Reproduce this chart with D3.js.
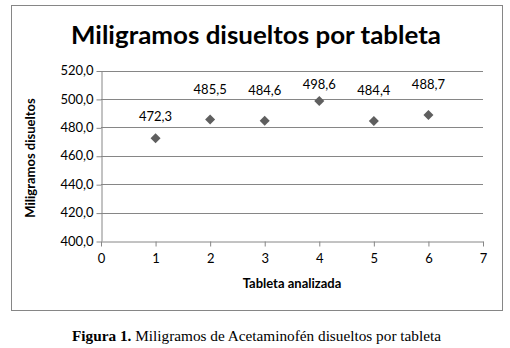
<!DOCTYPE html>
<html><head><meta charset="utf-8">
<script src="https://cdn.jsdelivr.net/npm/d3@7"></script>
<style>body{margin:0;background:#fff}svg{display:block}</style>
</head><body>
<svg id="c" width="510" height="348"></svg>
<script>
const tablets = [1, 2, 3, 4, 5, 6];
const mgValues = [472.3, 485.5, 484.6, 498.6, 484.4, 488.7];
const labelLift = [22, 30, 30, 16, 31, 30];
const yTicks = [400, 420, 440, 460, 480, 500, 520];
const xTicks = [0, 1, 2, 3, 4, 5, 6, 7];
const titleText = "Miligramos disueltos por tableta";
const yTitle = "Miligramos disueltos";
const xTitle = "Tableta analizada";

const svg = d3.select("#c");
const grid = "#868686";
const fmt = v => d3.format(".1f")(v).replace(".", ",");

svg.append("rect").attr("x", 11.5).attr("y", 5.5).attr("width", 491).attr("height", 305)
  .attr("fill", "#fff").attr("stroke", grid).attr("stroke-width", 1);

const x = d3.scaleLinear().domain([0, 7]).range([101, 483]);
const y = d3.scaleLinear().domain([400, 520]).range([241, 70.5]);

// gridlines
svg.append("g").selectAll("line").data(yTicks.filter(d => d > 400)).join("line")
  .attr("x1", x(0)).attr("x2", x(7))
  .attr("y1", d => Math.round(y(d)) + 0.5).attr("y2", d => Math.round(y(d)) + 0.5)
  .attr("stroke", grid);

const yAxis = svg.append("g").attr("transform", `translate(${Math.round(x(0)) + 0.5},0)`)
  .call(d3.axisLeft(y).tickValues(yTicks).tickFormat(fmt).tickSize(5).tickPadding(3).tickSizeOuter(0));
const xAxis = svg.append("g").attr("transform", `translate(0,${Math.round(y(400)) + 0.5})`)
  .call(d3.axisBottom(x).tickValues(xTicks).tickFormat(d3.format("d")).tickSize(5).tickPadding(7).tickSizeOuter(0));
[yAxis, xAxis].forEach(a => {
  a.select(".domain").attr("stroke", grid);
  a.selectAll(".tick line").attr("stroke", grid);
  a.selectAll("text").attr("fill", "#000").attr("font-family", "Lato, sans-serif").attr("font-size", 13);
});
yAxis.selectAll(".tick line").attr("transform", "translate(0,0.5)");

// markers
const sym = d3.symbol().type(d3.symbolDiamond2).size(64);
svg.append("g").selectAll("path").data(tablets).join("path")
  .attr("d", sym)
  .attr("transform", (d, i) => `translate(${x(d)},${y(mgValues[i])})`)
  .attr("fill", "#5f5f5f");

svg.append("g").selectAll("text").data(tablets).join("text")
  .attr("x", d => x(d))
  .attr("y", (d, i) => y(mgValues[i]) - labelLift[i] + 4.5)
  .attr("text-anchor", "middle")
  .attr("font-family", "Lato, sans-serif").attr("font-size", 13).attr("fill", "#000")
  .text((d, i) => fmt(mgValues[i]));

svg.append("text").attr("x", 256).attr("y", 44).attr("text-anchor", "middle")
  .attr("font-family", "Lato, sans-serif").attr("font-weight", "bold").attr("font-size", 25)
  .attr("textLength", 370).attr("lengthAdjust", "spacingAndGlyphs")
  .text(titleText);

svg.append("text").attr("transform", "translate(35,158) rotate(-90)").attr("text-anchor", "middle")
  .attr("font-family", "Lato, sans-serif").attr("font-weight", "bold").attr("font-size", 13)
  .text(yTitle);

svg.append("text").attr("x", 292).attr("y", 288).attr("text-anchor", "middle")
  .attr("font-family", "Lato, sans-serif").attr("font-weight", "bold").attr("font-size", 13)
  .text(xTitle);

const cap = svg.append("text").attr("x", 256.5).attr("y", 341).attr("text-anchor", "middle")
  .attr("font-family", "'Liberation Serif', serif").attr("font-size", 14.5)
  .attr("textLength", 369).attr("lengthAdjust", "spacingAndGlyphs");
cap.append("tspan").attr("font-weight", "bold").text("Figura 1.");
cap.append("tspan").text(" Miligramos de Acetaminofén disueltos por tableta");
</script>
</body></html>
